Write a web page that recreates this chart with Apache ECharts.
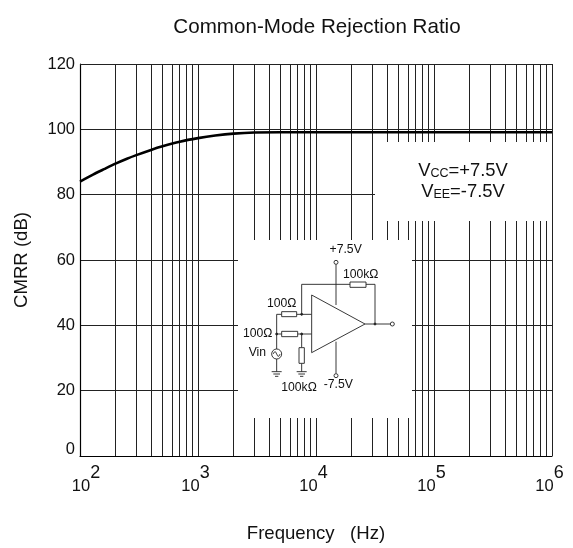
<!DOCTYPE html>
<html><head><meta charset="utf-8">
<style>html,body{margin:0;padding:0;background:#fff}#c{width:573px;height:548px}</style>
<script src="https://cdn.jsdelivr.net/npm/echarts@6/dist/echarts.min.js"></script>
</head><body><div id="c"></div>
<script>
const frequencies = [100,130,160,200,250,300,400,500,700,1000,1400,2000,3000,5000,10000,100000,1000000];
const cmrr =        [84,86.2,87.8,89.5,91,92.1,93.7,94.8,96.2,97.3,98.1,98.7,99.05,99.1,99.1,99.1,99.1];
const gridFreqs = [200,300,400,500,600,700,800,900,1000,2000,3000,4000,5000,6000,7000,8000,9000,10000,
  20000,30000,40000,50000,60000,70000,80000,90000,100000,200000,300000,400000,500000,600000,700000,800000,900000];
const FONT = '"Liberation Sans", Arial, sans-serif';

const chart = echarts.init(document.getElementById('c'), null, {renderer:'canvas'});

// circuit inset, in a local coordinate space
const S = 1/3, OX = 230, OY = 230, C = '#222';
const seg = (pts, w) => ({type:'polyline', z:21, shape:{points:pts.map(p=>[OX+p[0]*S, OY+p[1]*S])},
  style:{stroke:C, lineWidth:w||0.9, fill:null}});
const res = (x0,y0,x1,y1) => ({type:'rect', z:22, shape:{x:OX+x0*S,y:OY+y0*S,width:(x1-x0)*S,height:(y1-y0)*S},
  style:{stroke:C, lineWidth:0.9, fill:'#fff'}});
const circ = (x,y,r,fill) => ({type:'circle', z:22, shape:{cx:OX+x*S,cy:OY+y*S,r:r*S},
  style:{stroke:C, lineWidth:0.9, fill:fill||'#fff'}});
const txt = (x,y,t,size) => ({type:'text', z:23, x:OX+x*S, y:OY+y*S,
  style:{text:t, font:(size||12.2)+'px '+FONT, fill:'#111', align:'center', verticalAlign:'middle'}});
const ground = (x,y) => [seg([[x-15,y],[x+15,y]]), seg([[x-10,y+7],[x+10,y+7]]), seg([[x-5,y+14],[x+5,y+14]])];
const circuit = [
  seg([[318,103],[318,225]]), seg([[318,335],[318,430]]),
  seg([[215,253],[215,163],[360,163]]), seg([[408,163],[435,163],[435,282]]),
  seg([[405,282],[480,282]]),
  seg([[245,253],[200,253]]), seg([[155,253],[140,253],[140,357]]),
  seg([[140,312],[155,312]]), seg([[203,312],[245,312]]),
  seg([[215,312],[215,353]]), seg([[215,400],[215,425]]), seg([[140,387],[140,425]]),
  ...ground(140,425), ...ground(215,425),
  {type:'polygon', z:22, shape:{points:[[245,195],[245,368],[405,282]].map(p=>[OX+p[0]*S,OY+p[1]*S])},
    style:{stroke:C, lineWidth:0.9, fill:'#fff'}},
  seg([[258,253],[273,253]]), seg([[258,312],[273,312]]), seg([[265,305],[265,319]]),
  res(360,156,408,172), res(155,245,200,260), res(155,304,203,320), res(207,353,223,400),
  circ(318,97,6), circ(318,437,6), circ(487,282,6), circ(140,372,15),
  {type:'polyline', z:23, shape:{smooth:0.6, points:[[130,372],[135,365],[140,372],[145,379],[150,372]].map(p=>[OX+p[0]*S,OY+p[1]*S])},
    style:{stroke:C, lineWidth:0.9, fill:null}},
  circ(215,253,3,C), circ(215,312,3,C), circ(140,312,3,C), circ(435,282,3,C),
  txt(347,60,'+7.5V'), txt(392,133,'100kΩ'), txt(155,222,'100Ω'), txt(83,312,'100Ω'),
  txt(82,369,'Vin'), txt(207,473,'100kΩ'), txt(325,463,'-7.5V')
];

const supplyStyle = {
  a:{fontSize:18.4, fontFamily:FONT, fill:'#111'},
  s:{fontSize:12.5, fontFamily:FONT, fill:'#111', verticalAlign:'bottom', lineHeight:14, padding:[6,0,0,0]}
};

chart.setOption({
  backgroundColor:'#fff',
  animation:false,
  title:{text:'Common-Mode Rejection Ratio', left:312, top:12, textAlign:'center',
    textStyle:{fontFamily:FONT, fontSize:20.6, fontWeight:'normal', color:'#111'}},
  grid:{left:80, right:21, top:64, height:392, containLabel:false, outerBoundsMode:'none'},
  xAxis:{type:'log', logBase:10, min:100, max:1000000,
    name:'Frequency   (Hz)', nameLocation:'middle', nameGap:68,
    nameTextStyle:{fontFamily:FONT, fontSize:18.6, color:'#111'},
    axisLine:{show:true, onZero:false, lineStyle:{color:'#000', width:1.2}},
    axisTick:{show:false}, minorTick:{show:false},
    splitLine:{show:false},
    axisLabel:{margin:8, showMinLabel:true, showMaxLabel:true, hideOverlap:false,
      formatter:v=>{const e=Math.round(Math.log10(v)); return (e===2?'{p|}':'')+'{b|10}{e|'+e+'}';},
      rich:{b:{fontFamily:FONT,fontSize:16.5,color:'#111',verticalAlign:'bottom',padding:[14,0,0,0]},
            e:{fontFamily:FONT,fontSize:18,color:'#111',verticalAlign:'top',padding:[0,5,5,0]},
            p:{width:17}}}},
  yAxis:{type:'value', min:0, max:120, interval:20,
    name:'CMRR (dB)', nameLocation:'middle', nameGap:49, nameRotate:90,
    nameTextStyle:{fontFamily:FONT, fontSize:18.6, color:'#111'},
    axisLine:{show:true, onZero:false, lineStyle:{color:'#000', width:1.2}},
    axisTick:{show:false},
    splitLine:{show:true, lineStyle:{color:'#222', width:1}},
    axisLabel:{margin:5,
      formatter:v=>v===0?'{z|0}':'{n|'+v+'}',
      rich:{n:{fontFamily:FONT,fontSize:16.5,color:'#111'},
            z:{fontFamily:FONT,fontSize:16.5,color:'#111',padding:[0,0,14,0]}}}},
  series:[{
    type:'line', name:'CMRR', data:frequencies.map((f,i)=>[f,cmrr[i]]),
    smooth:0.2, symbol:'none', clip:true, z:5,
    lineStyle:{color:'#000', width:2.6},
    markLine:{silent:true, symbol:'none', precision:6, animation:false, z:1,
      label:{show:false},
      lineStyle:{color:'#222', width:1, type:'solid'},
      data:[...gridFreqs.map(f=>({xAxis:f})), {yAxis:120}, {xAxis:1000000}]}
  }],
  graphic:{elements:[
    {type:'rect', z:20, shape:{x:375,y:142,width:177,height:79}, style:{fill:'#fff'}},
    {type:'rect', z:20, shape:{x:238,y:240,width:174,height:178}, style:{fill:'#fff'}},
    {type:'text', z:21, x:463, y:171, style:{rich:supplyStyle, text:'{a|V}{s|CC}{a|=+7.5V}', align:'center', verticalAlign:'middle'}},
    {type:'text', z:21, x:463, y:192, style:{rich:supplyStyle, text:'{a|V}{s|EE}{a|=-7.5V}', align:'center', verticalAlign:'middle'}},
    ...circuit
  ]}
});
</script></body></html>
